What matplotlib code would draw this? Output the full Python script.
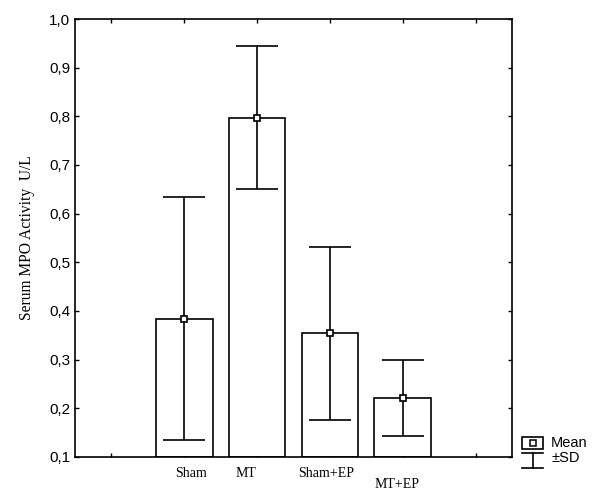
import matplotlib
matplotlib.use("Agg")
import matplotlib.pyplot as plt
from matplotlib.ticker import FuncFormatter
from matplotlib.lines import Line2D
from matplotlib.patches import Rectangle

# data
groups = ["Sham", "MT", "Sham+EP", "MT+EP"]
means = [0.384, 0.797, 0.354, 0.222]
sds = [0.250, 0.147, 0.178, 0.078]
y_ticks = [0.1, 0.2, 0.3, 0.4, 0.5, 0.6, 0.7, 0.8, 0.9, 1.0]

fig = plt.figure(figsize=(6, 5.04), dpi=100)
ax = fig.add_axes([0.125, 0.0933, 0.7283, 0.869])

x = list(range(1, len(groups) + 1))
base = 0.1
ax.bar(x, [m - base for m in means], bottom=base, width=0.78,
       color="white", edgecolor="black", linewidth=1.2, zorder=2)
ax.errorbar(x, means, yerr=sds, fmt="s", color="black", ecolor="black",
            elinewidth=1.2, capsize=15, capthick=1.2, markersize=5,
            markerfacecolor="white", markeredgecolor="black",
            markeredgewidth=1.2, zorder=3)

ax.set_xlim(-0.5, 5.5)
ax.set_ylim(0.1, 1.0)
ax.set_xticks(range(0, 6))
ax.set_xticklabels([])
ax.set_yticks(y_ticks)
ax.yaxis.set_major_formatter(FuncFormatter(lambda v, p: ("%.1f" % v).replace(".", ",")))
ax.tick_params(direction="in", length=3, top=True, right=True, width=1)
for lbl in ax.get_yticklabels():
    lbl.set_fontfamily("Liberation Sans")
    lbl.set_fontsize(11)
for s in ax.spines.values():
    s.set_linewidth(1.2)

# category labels, staggered like the original
offsets = [(0.09, -0.033), (-0.15, -0.033), (-0.05, -0.033), (-0.08, -0.056)]
for xi, g, (dx, dy) in zip(x, groups, offsets):
    ax.text(xi + dx, base + dy, g, ha="center", va="center",
            family="Liberation Serif", fontsize=10)

ax.set_ylabel("Serum MPO Activity  U/L", family="Liberation Serif", fontsize=11.2,
              labelpad=10)

# legend drawn by hand in figure pixels
def fx(px):
    return px / 600.0

def fy(py):
    return 1 - py / 504.0

fig.add_artist(Rectangle((fx(522), fy(449)), fx(543) - fx(522), fy(437) - fy(449),
                         transform=fig.transFigure, fill=False, edgecolor="black", lw=1.2))
fig.add_artist(Line2D([fx(532.5)], [fy(443)], transform=fig.transFigure, marker="s",
                      markersize=4, markerfacecolor="white", markeredgecolor="black",
                      markeredgewidth=1.1))
fig.add_artist(Line2D([fx(522), fx(543)], [fy(453), fy(453)], transform=fig.transFigure, color="black", lw=1.2))
fig.add_artist(Line2D([fx(522), fx(543)], [fy(468), fy(468)], transform=fig.transFigure, color="black", lw=1.2))
fig.add_artist(Line2D([fx(532.5), fx(532.5)], [fy(453), fy(468)], transform=fig.transFigure, color="black", lw=1.2))
fig.text(fx(551), fy(443), "Mean", ha="left", va="center", family="Liberation Sans", fontsize=10.5)
fig.text(fx(551), fy(458), "\u00b1SD", ha="left", va="center", family="Liberation Sans", fontsize=10.5)

fig.savefig("out.png", dpi=100)
